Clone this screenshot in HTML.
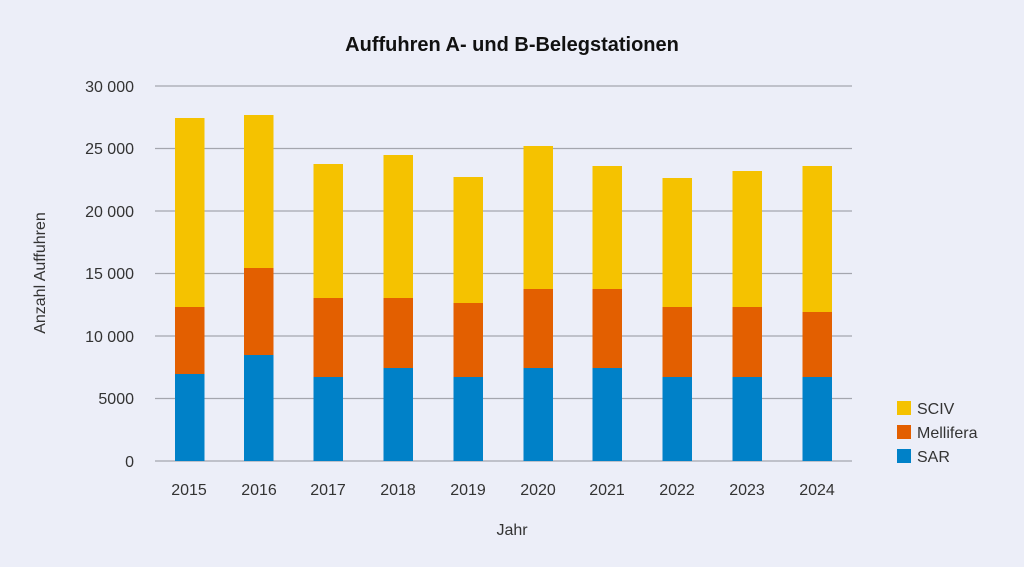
<!DOCTYPE html>
<html><head><style>
html,body{margin:0;padding:0;background:#eceef8;}
svg{display:block;font-family:"Liberation Sans",sans-serif;}
</style></head><body>
<svg width="1024" height="567" viewBox="0 0 1024 567">
<rect width="1024" height="567" fill="#eceef8"/>
<text x="512" y="51" text-anchor="middle" font-size="20" font-weight="bold" fill="#111">Auffuhren A- und B-Belegstationen</text>
<g stroke="#a4a6ae" stroke-width="1.3">
<line x1="155" x2="852" y1="86" y2="86"/><line x1="155" x2="852" y1="148.5" y2="148.5"/>
<line x1="155" x2="852" y1="211" y2="211"/><line x1="155" x2="852" y1="273.5" y2="273.5"/>
<line x1="155" x2="852" y1="336" y2="336"/><line x1="155" x2="852" y1="398.5" y2="398.5"/>
<line x1="155" x2="852" y1="461" y2="461"/>
</g>
<g font-size="16" fill="#333" text-anchor="end">
<text x="134" y="92">30 000</text><text x="134" y="154">25 000</text><text x="134" y="217">20 000</text>
<text x="134" y="279">15 000</text><text x="134" y="342">10 000</text><text x="134" y="404">5000</text><text x="134" y="467">0</text>
</g>
<text transform="translate(45,273) rotate(-90)" text-anchor="middle" font-size="16" fill="#333">Anzahl Auffuhren</text>
<text x="512" y="535" text-anchor="middle" font-size="16" fill="#333">Jahr</text>
<g id="bars"></g>
<g font-size="16" fill="#333">
<rect x="897" y="401" width="14" height="14" fill="#f5c200"/><text x="917" y="414">SCIV</text>
<rect x="897" y="425" width="14" height="14" fill="#e35f00"/><text x="917" y="438">Mellifera</text>
<rect x="897" y="449" width="14" height="14" fill="#0081c8"/><text x="917" y="462">SAR</text>
</g>
<g font-size="16" fill="#333" text-anchor="middle">
<text x="189" y="495">2015</text><text x="259" y="495">2016</text><text x="328" y="495">2017</text><text x="398" y="495">2018</text><text x="468" y="495">2019</text><text x="538" y="495">2020</text><text x="607" y="495">2021</text><text x="677" y="495">2022</text><text x="747" y="495">2023</text><text x="817" y="495">2024</text>
</g>
<g>
<rect x="175" y="118" width="29.5" height="189" fill="#f5c200"/><rect x="175" y="307" width="29.5" height="67" fill="#e35f00"/><rect x="175" y="374" width="29.5" height="87" fill="#0081c8"/>
<rect x="244" y="115" width="29.5" height="153" fill="#f5c200"/><rect x="244" y="268" width="29.5" height="87" fill="#e35f00"/><rect x="244" y="355" width="29.5" height="106" fill="#0081c8"/>
<rect x="313.5" y="164" width="29.5" height="134" fill="#f5c200"/><rect x="313.5" y="298" width="29.5" height="79" fill="#e35f00"/><rect x="313.5" y="377" width="29.5" height="84" fill="#0081c8"/>
<rect x="383.5" y="155" width="29.5" height="143" fill="#f5c200"/><rect x="383.5" y="298" width="29.5" height="70" fill="#e35f00"/><rect x="383.5" y="368" width="29.5" height="93" fill="#0081c8"/>
<rect x="453.5" y="177" width="29.5" height="126" fill="#f5c200"/><rect x="453.5" y="303" width="29.5" height="74" fill="#e35f00"/><rect x="453.5" y="377" width="29.5" height="84" fill="#0081c8"/>
<rect x="523.5" y="146" width="29.5" height="143" fill="#f5c200"/><rect x="523.5" y="289" width="29.5" height="79" fill="#e35f00"/><rect x="523.5" y="368" width="29.5" height="93" fill="#0081c8"/>
<rect x="592.5" y="166" width="29.5" height="123" fill="#f5c200"/><rect x="592.5" y="289" width="29.5" height="79" fill="#e35f00"/><rect x="592.5" y="368" width="29.5" height="93" fill="#0081c8"/>
<rect x="662.5" y="178" width="29.5" height="129" fill="#f5c200"/><rect x="662.5" y="307" width="29.5" height="70" fill="#e35f00"/><rect x="662.5" y="377" width="29.5" height="84" fill="#0081c8"/>
<rect x="732.5" y="171" width="29.5" height="136" fill="#f5c200"/><rect x="732.5" y="307" width="29.5" height="70" fill="#e35f00"/><rect x="732.5" y="377" width="29.5" height="84" fill="#0081c8"/>
<rect x="802.5" y="166" width="29.5" height="146" fill="#f5c200"/><rect x="802.5" y="312" width="29.5" height="65" fill="#e35f00"/><rect x="802.5" y="377" width="29.5" height="84" fill="#0081c8"/>
</g>
</svg>
</body></html>
